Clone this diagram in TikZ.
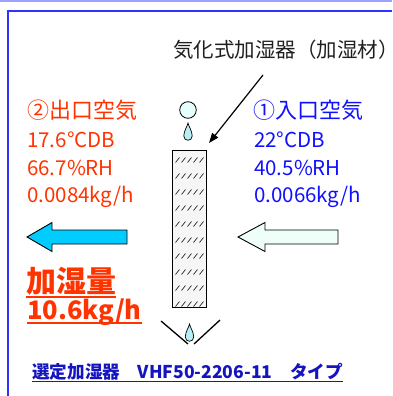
\documentclass[tikz,border=0pt]{standalone}
\usepackage{fontspec}
\setmainfont{Noto Sans CJK JP}
\usetikzlibrary{arrows.meta}

\definecolor{outred}{HTML}{FF3300}
\definecolor{inblue}{HTML}{1010FF}
\definecolor{selblue}{HTML}{1515C0}
\definecolor{framebl}{HTML}{3030FF}
\definecolor{bandbl}{HTML}{A0A0FF}
\definecolor{hotarrow}{HTML}{00CCFF}
\definecolor{coldarrow}{HTML}{EEFFFA}
\definecolor{dropfill}{HTML}{B8EEF4}
\definecolor{ballfill}{HTML}{E6FFFD}
\definecolor{padfill}{HTML}{F6F6F6}

\tikzset{
  txt/.style={inner sep=0pt, anchor=base west},
  outtxt/.style={txt, text=outred},
  intxt/.style={txt, text=inblue},
  blockarrow/.style={draw=black, line width=0.9pt, line join=miter},
  drop/.style={draw=black, line width=0.7pt, fill=dropfill},
  hatch/.style={line width=0.6pt, black},
}

% teardrop with its tip at (#1,#2)
\newcommand{\waterdrop}[2]{%
  \path[drop] (#1,#2) .. controls (#1+0.5,#2+3) and (#1+4.2,#2+8) .. (#1+4.2,#2+13)
    .. controls (#1+4.2,#2+15.5) and (#1+2.3,#2+17.3) .. (#1,#2+17.3)
    .. controls (#1-2.3,#2+17.3) and (#1-4.2,#2+15.5) .. (#1-4.2,#2+13)
    .. controls (#1-4.2,#2+8) and (#1-0.5,#2+3) .. (#1,#2) -- cycle;}

\begin{document}
\begin{tikzpicture}[x=1pt, y=-1pt]
\useasboundingbox (0,0) rectangle (392,396);

% page frame
\fill[bandbl] (0,0) rectangle (392,2);
\draw[framebl, line width=2pt] (7.5,396) -- (7.5,11.5) -- (392,11.5);

% title and pointer
\node[txt, text=black!88, font=\fontsize{20.5}{24}\selectfont] (title) at (173,58) {気化式加湿器（加湿材）};
\coordinate (ptrstart) at (263,75);
\coordinate (ptrend) at (209,143);
\draw[line width=1.2pt, -{Triangle[length=10pt,width=7.5pt]}] (ptrstart) -- (ptrend);

% water supply
\draw[line width=0.8pt, fill=ballfill] (188,110) circle (8.3);
\waterdrop{188}{123}

% humidifying pad
\node[draw=black, line width=1.1pt, fill=padfill, minimum width=34pt, minimum height=157pt, inner sep=0pt, anchor=north west] (pad) at (172,150) {};
\foreach \r in {0,...,9}{
  \foreach \c in {0,...,4}{
    \draw[hatch] (175.5+6*\c, 162.5+16*\r) -- (179.5+6*\c, 157.5+16*\r);
  }
}

% drain tray
\coordinate (trayL) at (161,321);
\coordinate (trayLb) at (188,344);
\coordinate (trayRb) at (194,344);
\coordinate (trayR) at (220,320);
\draw[line width=1.3pt] (trayL) -- (trayLb);
\draw[line width=1.3pt] (trayRb) -- (trayR);
\waterdrop{189.5}{324}

% outlet air
\begin{scope}[font=\fontsize{20.5}{24}\selectfont]
\node[outtxt, font=\fontsize{22}{24}\selectfont] (outhead) at (27,118) {②出口空気};
\node[outtxt] (outdb) at (27,147) {17.6°CDB};
\node[outtxt] (outrh) at (27,175) {66.7\%RH};
\node[outtxt] (outab) at (27,202) {0.0084kg/h};

% inlet air
\node[intxt, font=\fontsize{22}{24}\selectfont] (inhead) at (253,118) {①入口空気};
\node[intxt] (indb) at (254,147) {22°CDB};
\node[intxt] (inrh) at (254,175) {40.5\%RH};
\node[intxt] (inab) at (254,202) {0.0066kg/h};
\end{scope}

% air flow arrows
\path[blockarrow, fill=hotarrow] (27,237) -- (52,222.5) -- (52,230) -- (127,230) -- (127,244) -- (52,244) -- (52,251.5) -- cycle;
\path[blockarrow, fill=coldarrow] (238,237) -- (265,222.5) -- (265,230) -- (338,230) -- (338,244) -- (265,244) -- (265,251.5) -- cycle;

% humidification amount
\node[outtxt, font=\fontsize{30}{32}\bfseries\selectfont] (amtlabel) at (26,292) {加湿量};
\node[outtxt, font=\fontsize{25.5}{30}\bfseries\selectfont] (amtvalue) at (27,319) {10.6kg/h};
\draw[outred, line width=2pt] ([yshift=-4.5pt]amtlabel.base west) -- ([yshift=-4.5pt]amtlabel.base east);
\draw[outred, line width=2pt] ([yshift=-4pt]amtvalue.base west) -- ([yshift=-4pt]amtvalue.base east);

% selected model
\node[txt, text=selblue, font=\fontsize{17.6}{20}\bfseries\selectfont] (model) at (32,378) {選定加湿器　VHF50-2206-11　タイプ};
\draw[selblue, line width=1pt] ([yshift=-3pt]model.base west) -- ([yshift=-3pt]model.base east);
\end{tikzpicture}
\end{document}
